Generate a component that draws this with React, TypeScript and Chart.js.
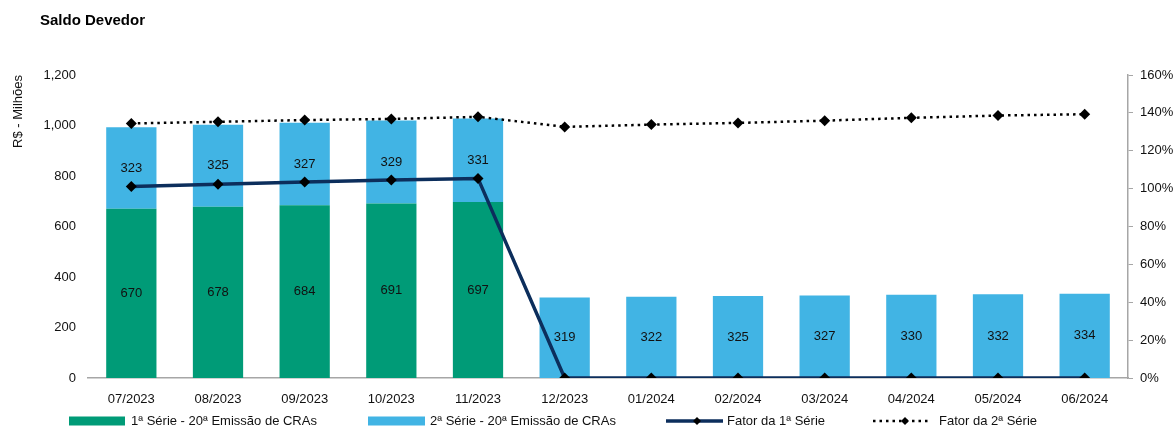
import React, { useEffect, useRef } from "react";
import { Chart, registerables } from "chart.js";

Chart.register(...registerables);

const categories = ["07/2023", "08/2023", "09/2023", "10/2023", "11/2023", "12/2023", "01/2024", "02/2024", "03/2024", "04/2024", "05/2024", "06/2024"];
const serie1Saldo = [670, 678, 684, 691, 697, null, null, null, null, null, null, null];
const serie2Saldo = [323, 325, 327, 329, 331, 319, 322, 325, 327, 330, 332, 334];
const fator1 = [101.1, 102.3, 103.5, 104.6, 105.4, 0, 0, 0, 0, 0, 0, 0];
const fator2 = [134.4, 135.3, 136.2, 136.8, 137.9, 132.6, 133.8, 134.7, 135.9, 137.4, 138.6, 139.3];

const leftTicks = [0, 200, 400, 600, 800, 1000, 1200];
const rightTicks = [0, 20, 40, 60, 80, 100, 120, 140, 160];

const title = "Saldo Devedor";
const yTitle = "R$ - Milhões";
const seriesNames = ["1ª Série - 20ª Emissão de CRAs", "2ª Série - 20ª Emissão de CRAs", "Fator da 1ª Série", "Fator da 2ª Série"];

const GREEN = "rgb(0,155,119)";
const BLUE = "rgb(65,180,228)";
const NAVY = "rgb(12,46,92)";
const FONT = "'Liberation Sans', Arial, sans-serif";

const labelsPlugin = {
  id: "barLabels",
  afterDatasetsDraw(chart: any) {
    const ctx = chart.ctx;
    ctx.save();
    ctx.font = `13px ${FONT}`;
    ctx.fillStyle = "#111";
    ctx.textAlign = "center";
    ctx.textBaseline = "middle";
    chart.data.datasets.forEach((ds: any, i: number) => {
      if (ds.type !== "bar") return;
      const meta = chart.getDatasetMeta(i);
      meta.data.forEach((el: any, j: number) => {
        const v = ds.data[j];
        if (v === null || v === undefined) return;
        ctx.fillText(String(v), el.x, (el.y + el.base) / 2);
      });
    });
    ctx.restore();
  },
};

function diamond(ctx: any, x: number, y: number, r: number) {
  ctx.beginPath();
  ctx.moveTo(x, y - r);
  ctx.lineTo(x + r, y);
  ctx.lineTo(x, y + r);
  ctx.lineTo(x - r, y);
  ctx.closePath();
  ctx.fillStyle = "#000";
  ctx.fill();
}

const decorPlugin = {
  id: "decor",
  afterDraw(chart: any) {
    const ctx = chart.ctx;
    ctx.save();
    // title
    ctx.font = `bold 15px ${FONT}`;
    ctx.fillStyle = "#000";
    ctx.textAlign = "left";
    ctx.textBaseline = "middle";
    ctx.fillText(title, 40, 21);

    // legend
    const ly = 421;
    ctx.font = `13px ${FONT}`;
    ctx.fillStyle = GREEN;
    ctx.fillRect(69, ly - 4.5, 56, 9);
    ctx.fillStyle = "#111";
    ctx.fillText(seriesNames[0], 131, ly);

    ctx.fillStyle = BLUE;
    ctx.fillRect(368, ly - 4.5, 57, 9);
    ctx.fillStyle = "#111";
    ctx.fillText(seriesNames[1], 430, ly);

    ctx.strokeStyle = NAVY;
    ctx.lineWidth = 3.5;
    ctx.beginPath();
    ctx.moveTo(666, ly);
    ctx.lineTo(723, ly);
    ctx.stroke();
    diamond(ctx, 697, ly, 4);
    ctx.fillStyle = "#111";
    ctx.fillText(seriesNames[2], 727, ly);

    ctx.strokeStyle = "#000";
    ctx.lineWidth = 2.5;
    ctx.setLineDash([2.5, 4]);
    ctx.beginPath();
    ctx.moveTo(873, ly);
    ctx.lineTo(930, ly);
    ctx.stroke();
    ctx.setLineDash([]);
    diamond(ctx, 905, ly, 4);
    ctx.fillStyle = "#111";
    ctx.fillText(seriesNames[3], 939, ly);
    ctx.restore();
  },
};

export default function App() {
  const ref = useRef<HTMLCanvasElement>(null);
  useEffect(() => {
    document.body.style.margin = "0";
    const chart = new Chart(ref.current as HTMLCanvasElement, {
      type: "bar",
      data: {
        labels: categories,
        datasets: [
          {
            type: "line",
            label: seriesNames[2],
            data: fator1,
            yAxisID: "y1",
            borderColor: NAVY,
            borderWidth: 3.5,
            pointStyle: "rectRot",
            pointRadius: 5.5,
            pointBackgroundColor: "#000",
            pointBorderColor: "#000",
            pointBorderWidth: 0,
            tension: 0,
            order: 0,
          } as any,
          {
            type: "line",
            label: seriesNames[3],
            data: fator2,
            yAxisID: "y1",
            borderColor: "#000",
            borderWidth: 2.5,
            borderDash: [2.5, 4],
            pointStyle: "rectRot",
            pointRadius: 5.5,
            pointBackgroundColor: "#000",
            pointBorderColor: "#000",
            pointBorderWidth: 0,
            tension: 0,
            order: 0,
          } as any,
          {
            type: "bar",
            label: seriesNames[0],
            data: serie1Saldo,
            yAxisID: "y",
            backgroundColor: GREEN,
            barPercentage: 0.58,
            categoryPercentage: 1,
            order: 1,
          } as any,
          {
            type: "bar",
            label: seriesNames[1],
            data: serie2Saldo,
            yAxisID: "y",
            backgroundColor: BLUE,
            barPercentage: 0.58,
            categoryPercentage: 1,
            order: 1,
          } as any,
        ],
      },
      options: {
        responsive: false,
        animation: false,
        devicePixelRatio: 1,
        layout: { padding: { top: 75, left: 0, right: 0, bottom: 0 } },
        plugins: {
          legend: { display: false },
          title: { display: false },
          tooltip: { enabled: false },
        },
        scales: {
          x: {
            stacked: true,
            grid: { display: false, drawTicks: false },
            border: { display: true, color: "#A6A6A6", width: 1.5 },
            ticks: { color: "#111", font: { family: FONT, size: 13 }, padding: 14, maxRotation: 0 },
            afterFit: (s: any) => { s.height = 50; },
          },
          y: {
            stacked: true,
            position: "left",
            min: 0,
            max: 1200,
            afterBuildTicks: (s: any) => { s.ticks = leftTicks.map((v) => ({ value: v })); },
            grid: { display: false, drawTicks: false },
            border: { display: false },
            ticks: {
              color: "#111",
              font: { family: FONT, size: 13 },
              padding: 12,
              callback: (v: any) => Number(v).toLocaleString("en-US"),
            },
            title: {
              display: true,
              text: yTitle,
              align: "end",
              color: "#111",
              font: { family: FONT, size: 13 },
              padding: { top: 11, bottom: 0 },
            },
            afterFit: (s: any) => { s.width = 88; },
          },
          y1: {
            position: "right",
            min: 0,
            max: 160,
            afterBuildTicks: (s: any) => { s.ticks = rightTicks.map((v) => ({ value: v })); },
            grid: { display: true, drawOnChartArea: false, drawTicks: true, tickLength: 5, color: "#A6A6A6" },
            border: { display: true, color: "#A6A6A6", width: 1.5 },
            ticks: {
              color: "#111",
              font: { family: FONT, size: 13 },
              padding: 7,
              callback: (v: any) => `${v}%`,
            },
            afterFit: (s: any) => { s.width = 1174 - 1128; },
          },
        },
      },
      plugins: [labelsPlugin, decorPlugin],
    } as any);
    return () => chart.destroy();
  }, []);
  return <canvas ref={ref} width={1174} height={428} style={{ display: "block" }} />;
}
